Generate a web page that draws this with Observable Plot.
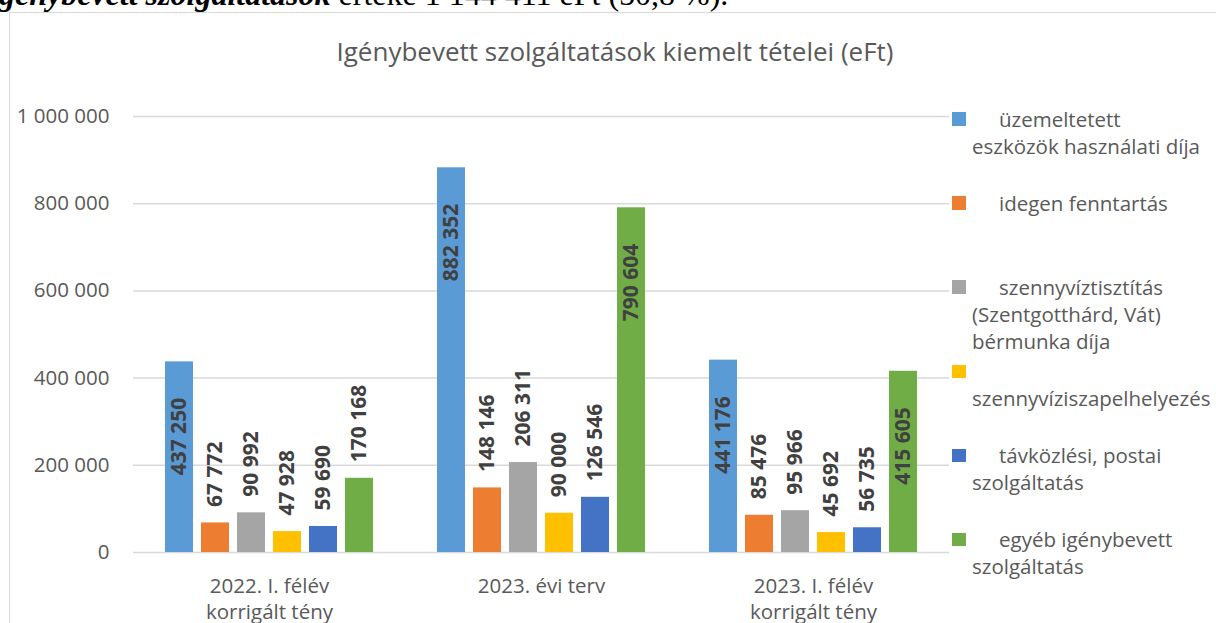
<!DOCTYPE html>
<html>
<head>
<meta charset="utf-8">
<script src="https://cdn.jsdelivr.net/npm/d3@7"></script>
<script src="https://cdn.jsdelivr.net/npm/@observablehq/plot@0.6"></script>
<style>
  html, body { margin: 0; padding: 0; background: #fff; overflow: hidden; }
  #wrap { position: relative; width: 1216px; height: 623px; overflow: hidden; font-family: "Open Sans", sans-serif; color: #595959; }
  #toptext { position: absolute; left: -1px; top: -22px; font-family: "Liberation Serif", serif; font-size: 32px; line-height: 1; color: #000; white-space: nowrap; }
  #toptext b { font-style: italic; }
  #frame { position: absolute; left: 9px; top: 12px; width: 1400px; height: 800px; border-left: 1.5px solid #d9d9d9; border-top: 1.5px solid #d9d9d9; }
  #chart { position: absolute; left: 0; top: 0; }
  #title { position: absolute; left: 0; width: 1230px; top: 33px; text-align: center; font-size: 26px; line-height: normal; white-space: nowrap; }
  #legend { position: absolute; left: 972px; top: 105.5px; width: 260px; }
  .item { position: relative; height: 84.2px; font-size: 20.5px; line-height: 27px; white-space: nowrap; }
  .item .first { padding-left: 27px; }
  .sw { position: absolute; left: -20px; top: 6.5px; width: 13.5px; height: 13.5px; }
</style>
</head>
<body>
<div id="wrap">
  <div id="frame"></div>
  <div id="toptext"><b>génybevett szolgáltatások</b> értéke 1 144 411 eFt (50,8 %).</div>
  <div id="chart"></div>
  <div id="title">Igénybevett szolgáltatások kiemelt tételei (eFt)</div>
  <div id="legend"></div>
</div>
<script>
// ---- data ----
const groups = ["2022. I. félév\nkorrigált tény", "2023. évi terv", "2023. I. félév\nkorrigált tény"];
const series = [
  "üzemeltetett eszközök használati díja",
  "idegen fenntartás",
  "szennyvíztisztítás (Szentgotthárd, Vát) bérmunka díja",
  "szennyvíziszapelhelyezés",
  "távközlési, postai szolgáltatás",
  "egyéb igénybevett szolgáltatás"
];
const legendLines = [
  ["üzemeltetett", "eszközök használati díja"],
  ["idegen fenntartás"],
  ["szennyvíztisztítás", "(Szentgotthárd, Vát)", "bérmunka díja"],
  ["", "szennyvíziszapelhelyezés"],
  ["távközlési, postai", "szolgáltatás"],
  ["egyéb igénybevett", "szolgáltatás"]
];
const uzemeltetett = [437250, 882352, 441176];
const idegen = [67772, 148146, 85476];
const szennyviztisztitas = [90992, 206311, 95966];
const iszap = [47928, 90000, 45692];
const tavkozles = [59690, 126546, 56735];
const egyeb = [170168, 790604, 415605];
const yTicks = [0, 200000, 400000, 600000, 800000, 1000000];
const colors = ["#5B9BD5", "#ED7D31", "#A5A5A5", "#FFC000", "#4472C4", "#70AD47"];

const seriesValues = [uzemeltetett, idegen, szennyviztisztitas, iszap, tavkozles, egyeb];
const data = [];
groups.forEach((g, gi) => {
  series.forEach((s, si) => data.push({group: g, series: s, value: seriesValues[si][gi]}));
});
const fmt = d => d3.format(",")(d).replace(/,/g, " ");
const threshold = 300000;
const outside = data.filter(d => d.value < threshold);
const inside = data.filter(d => d.value >= threshold);

const labelStyle = {fontFamily: "Open Sans", fontWeight: "bold", fontSize: 21, fill: "#404040", rotate: -90};

const chart = Plot.plot({
  width: 1216,
  height: 623,
  marginLeft: 132,
  marginRight: 267,
  marginTop: 116,
  marginBottom: 71,
  style: {fontFamily: "Open Sans", fontSize: "20.5px", color: "#595959", background: "transparent", overflow: "visible"},
  fx: {domain: groups, padding: 0, label: null, axis: null},
  x: {domain: series, paddingInner: 0.23, paddingOuter: 0.86, axis: null},
  y: {domain: [0, 1000000], axis: null},
  color: {domain: series, range: colors},
  marks: [
    Plot.gridY(yTicks, {stroke: "#d9d9d9", strokeOpacity: 1, strokeWidth: 1.5}),
    Plot.barY(data, {fx: "group", x: "series", y: "value", fill: "series"}),
    Plot.text(outside, {fx: "group", x: "series", y: "value", text: d => fmt(d.value), textAnchor: "start", dy: -16, ...labelStyle}),
    Plot.text(inside, {fx: "group", x: "series", y: "value", text: d => fmt(d.value), textAnchor: "end", dy: 36, ...labelStyle}),
    Plot.axisY({ticks: yTicks, tickSize: 0, tickPadding: 24, tickFormat: fmt, fontSize: 20.5, label: null}),
    Plot.axisFx({anchor: "bottom", tickSize: 0, tickPadding: 22, fontSize: 20.5, lineHeight: 1.28, label: null})
  ]
});
document.getElementById("chart").appendChild(chart);

// ---- legend ----
const legend = document.getElementById("legend");
series.forEach((s, i) => {
  const item = document.createElement("div");
  item.className = "item";
  const sw = document.createElement("span");
  sw.className = "sw";
  sw.style.background = colors[i];
  item.appendChild(sw);
  legendLines[i].forEach((line, li) => {
    const l = document.createElement("div");
    if (li === 0) l.className = "first";
    l.textContent = line || "\u00a0";
    item.appendChild(l);
  });
  legend.appendChild(item);
});
</script>
</body>
</html>
